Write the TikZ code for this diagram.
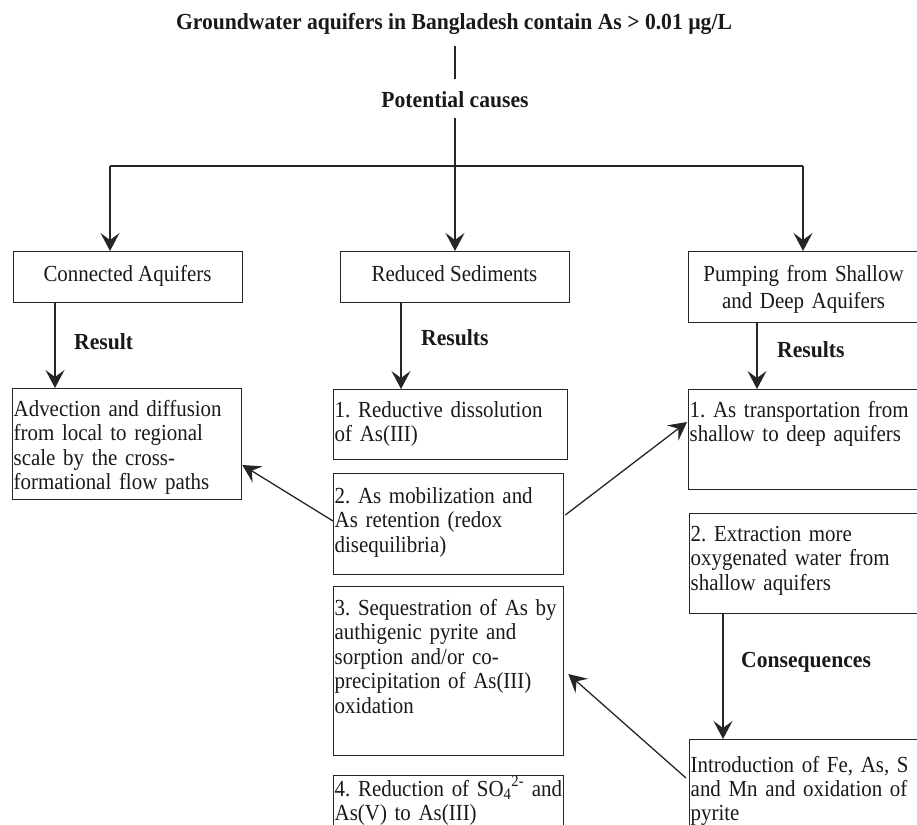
\documentclass[tikz,border=0pt]{standalone}
\usepackage{fontspec}
\setmainfont{Liberation Serif}[FakeStretch=0.91, BoldFeatures={FakeStretch=0.94}]
\usetikzlibrary{arrows.meta,calc}
\begin{document}
\frenchspacing
\begin{tikzpicture}[x=1pt,y=-1pt,
  ln/.style={line width=1.3pt, draw=black!85},
  arr/.style={ln, -{Stealth[length=18pt,width=19pt,inset=7pt]}},
  box/.style={ln, rectangle, inner sep=0pt, anchor=north west},
  txt/.style={inner sep=0pt, text width=300pt, align=left, anchor=base west, font=\frenchspacing\fontsize{23}{24.5}\selectfont, text=black!90},
  ctr/.style={inner sep=0pt, anchor=base, font=\fontsize{23}{27}\selectfont, text=black!90},
  lbl/.style={inner sep=0pt, font=\bfseries\fontsize{23}{24.5}\selectfont, text=black!90},
]
\useasboundingbox (0,0) rectangle (917,824);
\clip (0,0) rectangle (917,824);

% title
\node[lbl, anchor=base] (title) at (454,30) {Groundwater aquifers in Bangladesh contain As > 0.01 µg/L};
\node[lbl, anchor=base] (pc) at (455,108) {Potential causes};

% boxes
\node[box, minimum width=229pt, minimum height=51pt] (ca) at (13,251) {};
\node[box, minimum width=229pt, minimum height=51pt] (rs) at (340,251) {};
\node[box, minimum width=231pt, minimum height=71pt] (pu) at (688,251) {};
\node[box, minimum width=229pt, minimum height=111pt] (adv) at (12,388) {};
\node[box, minimum width=234pt, minimum height=70pt] (r1) at (333,389) {};
\node[box, minimum width=230pt, minimum height=101pt] (r2) at (333,473) {};
\node[box, minimum width=230pt, minimum height=169pt] (r3) at (333,586) {};
\node[box, minimum width=230pt, minimum height=60pt] (r4) at (333,775) {};
\node[box, minimum width=231pt, minimum height=100pt] (p1) at (688,389) {};
\node[box, minimum width=230pt, minimum height=100pt] (p2) at (689,513) {};
\node[box, minimum width=230pt, minimum height=100pt] (intro) at (689,739) {};

% box texts
\node[ctr] (tca) at (127.5,281) {Connected Aquifers};
\node[ctr] (trs) at (454.5,281) {Reduced Sediments};
\node[ctr, text width=240pt, align=center] (tpu) at (803.5,281) {Pumping from Shallow\\and Deep Aquifers};
\node[txt] (tadv) at (13.5,416) {Advection and diffusion\\from local to regional\\scale by the cross-\\formational flow paths};
\node[txt] (tr1) at (334.5,417) {1. Reductive dissolution\\of As(III)};
\node[txt] (tr2) at (334.5,503) {2. As mobilization and\\As retention (redox\\disequilibria)};
\node[txt] (tr3) at (334.5,615) {3. Sequestration of As by\\authigenic pyrite and\\sorption and/or co-\\precipitation of As(III)\\oxidation};
\node[txt, font=\frenchspacing\fontsize{23}{24}\selectfont] (tr4) at (334.5,796) {4. Reduction of SO\textsubscript{4}\textsuperscript{2-} and\\As(V) to As(III)};
\node[txt] (tp1) at (689.5,417) {1. As transportation from\\shallow to deep aquifers};
\node[txt] (tp2) at (690.5,541) {2. Extraction more\\oxygenated water from\\shallow aquifers};
\node[txt, font=\frenchspacing\fontsize{23}{24}\selectfont] (tin) at (690.5,772) {Introduction of Fe, As, S\\and Mn and oxidation of\\pyrite};

% labels
\node[lbl, anchor=base west] (l1) at (74,349) {Result};
\node[lbl, anchor=base west] (l2) at (421,345) {Results};
\node[lbl, anchor=base west] (l3) at (777,357) {Results};
\node[lbl, anchor=base west] (l4) at (741,667) {Consequences};

% connectors
\coordinate (jl) at (110,166);
\coordinate (jr) at (803,166);
\coordinate (xa) at (55,0);
\coordinate (xb) at (401,0);
\coordinate (xc) at (757,0);
\coordinate (xd) at (723,0);

\draw[ln] ([yshift=-11pt]title.south -| pc.base) -- ([yshift=13pt]pc.north);
\draw[arr] ([yshift=-10pt]pc.south) -- (pc.south |- rs.north);
\draw[ln] (jl) -- (jr);
\draw[arr] (jl) -- (jl |- ca.north);
\draw[arr] (jr) -- (jr |- pu.north);
\draw[arr] (xa |- ca.south) -- (xa |- adv.north);
\draw[arr] (xb |- rs.south) -- (xb |- r1.north);
\draw[arr] (xc |- pu.south) -- (xc |- p1.north);
\draw[arr] (xd |- p2.south) -- (xd |- intro.north);
\draw[arr] ($(r2.north west)+(0,48)$) -- ($(adv.north east)+(0,77)$);
\draw[arr] ($(r2.north east)+(1,42)$) -- ($(p1.north west)+(-1,33)$);
\draw[arr] ($(intro.north west)+(-3,39)$) -- ($(r3.north east)+(4,88)$);
\end{tikzpicture}
\end{document}
